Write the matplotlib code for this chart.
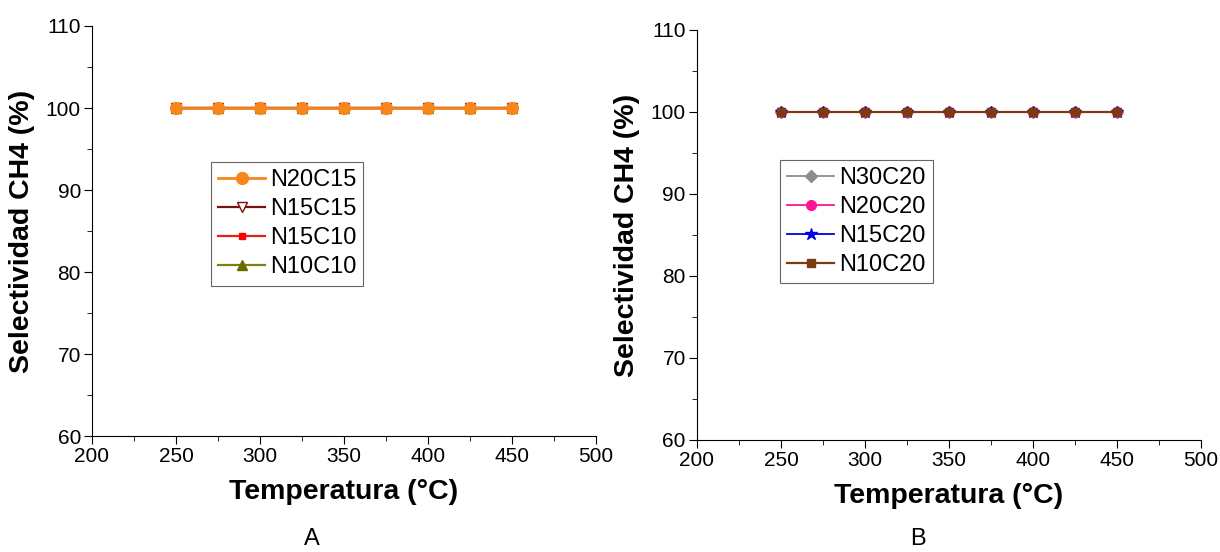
import matplotlib.pyplot as plt
from matplotlib.ticker import MultipleLocator

plt.rcParams['font.family'] = ['Liberation Sans', 'DejaVu Sans']

# datos
temperatura = [250, 275, 300, 325, 350, 375, 400, 425, 450]

series_a = ["N20C15", "N15C15", "N15C10", "N10C10"]
valores_a = {
    "N20C15": [100, 100, 100, 100, 100, 100, 100, 100, 100],
    "N15C15": [100, 100, 100, 100, 100, 100, 100, 100, 100],
    "N15C10": [100, 100, 100, 100, 100, 100, 100, 100, 100],
    "N10C10": [100, 100, 100, 100, 100, 100, 100, 100, 100],
}
series_b = ["N30C20", "N20C20", "N15C20", "N10C20"]
valores_b = {
    "N30C20": [100, 100, 100, 100, 100, 100, 100, 100, 100],
    "N20C20": [100, 100, 100, 100, 100, 100, 100, 100, 100],
    "N15C20": [100, 100, 100, 100, 100, 100, 100, 100, 100],
    "N10C20": [100, 100, 100, 100, 100, 100, 100, 100, 100],
}

estilos_a = {
    "N20C15": dict(color="#F7861C", marker="o", mfc="#F7861C", ms=8.5, lw=2),
    "N15C15": dict(color="#7A1010", marker="v", mfc="white", ms=6.5, lw=1.6),
    "N15C10": dict(color="#E8201A", marker="s", mfc="#FF0000", mec="#FF0000", ms=5, lw=1.6),
    "N10C10": dict(color="#7F7F10", marker="^", mfc="#6B6B00", mec="#6B6B00", ms=6.5, lw=1.6),
}
estilos_b = {
    "N30C20": dict(color="#8C8C8C", marker="D", mfc="#8C8C8C", mec="#8C8C8C", ms=6, lw=1.3),
    "N20C20": dict(color="#FF1493", marker="o", mfc="#FF1493", mec="#FF1493", ms=7, lw=1.3),
    "N15C20": dict(color="#0000E0", marker="*", mfc="#0000E0", mec="#0000E0", ms=9, lw=1.3),
    "N10C20": dict(color="#7B3A10", marker="s", mfc="#7B3A10", mec="#7B3A10", ms=6, lw=1.6),
}

fig = plt.figure(figsize=(12.2, 5.52), dpi=100)
ax_a = fig.add_axes([0.0754, 0.2101, 0.4131, 0.7428])
ax_b = fig.add_axes([0.5713, 0.2029, 0.4131, 0.7428])


def dibujar(ax, nombres, valores, estilos, orden, ancla):
    lineas = {}
    for n in orden:
        st = dict(estilos[n])
        st.setdefault("mec", st["color"])
        lineas[n], = ax.plot(temperatura, valores[n], **st)
    ax.set_xlim(200, 500)
    ax.set_ylim(60, 110)
    ax.xaxis.set_major_locator(MultipleLocator(50))
    ax.xaxis.set_minor_locator(MultipleLocator(25))
    ax.yaxis.set_major_locator(MultipleLocator(10))
    ax.yaxis.set_minor_locator(MultipleLocator(5))
    for s in ["top", "right"]:
        ax.spines[s].set_visible(False)
    ax.tick_params(which="major", direction="out", length=6, labelsize=15, pad=2)
    ax.tick_params(which="minor", direction="out", length=3.5)
    ax.set_xlabel("Temperatura (°C)", fontsize=20.5, fontweight="bold", labelpad=9)
    ax.set_ylabel("Selectividad CH4 (%)", fontsize=20.5, fontweight="bold", labelpad=8)
    leg = ax.legend([lineas[n] for n in nombres], nombres, loc="upper left",
                    bbox_to_anchor=ancla, fontsize=17, frameon=True, fancybox=False,
                    handlelength=2.0, handletextpad=0.2, borderpad=0.3, labelspacing=0.3,
                    borderaxespad=0)
    leg.get_frame().set_edgecolor("#404040")
    leg.get_frame().set_linewidth(0.8)


dibujar(ax_a, series_a, valores_a, estilos_a, series_a[::-1], (0.236, 0.668))
dibujar(ax_b, series_b, valores_b, estilos_b, series_b, (0.165, 0.683))

fig.text(312 / 1220, 1 - 539 / 552, "A", ha="center", va="center", fontsize=17)
fig.text(918 / 1220, 1 - 539 / 552, "B", ha="center", va="center", fontsize=17)

fig.savefig("out.png", dpi=100)
